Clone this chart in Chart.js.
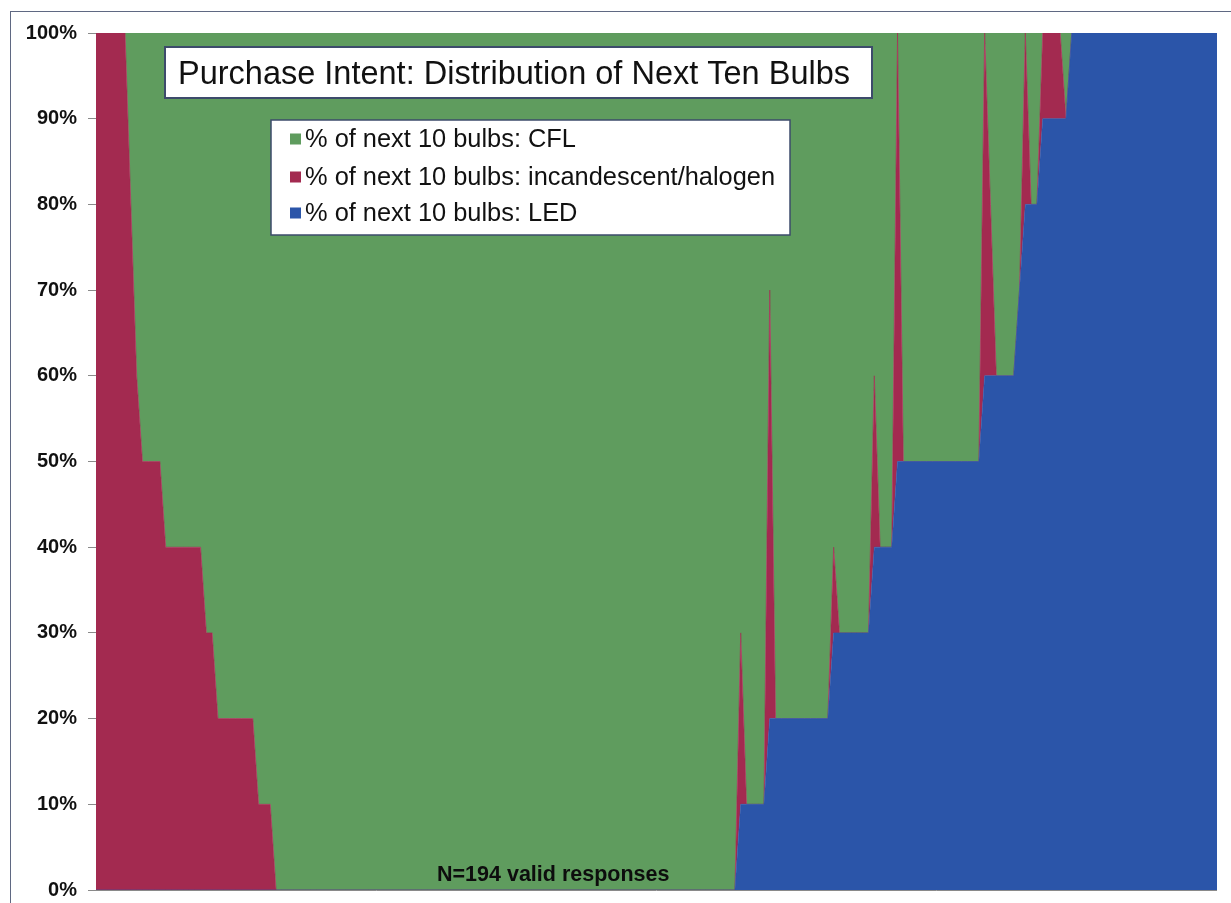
<!DOCTYPE html>
<html>
<head>
<meta charset="utf-8">
<script src="https://cdn.jsdelivr.net/npm/chart.js@4/dist/chart.umd.min.js"></script>
<style>
  html, body { margin: 0; padding: 0; background: #ffffff; }
  #wrap { width: 1231px; height: 903px; position: relative; }
</style>
</head>
<body>
<div id="wrap"><canvas id="c" width="1231" height="903"></canvas></div>
<script>
// ---- DATA (one value per respondent, sorted as in the original, N = 194) ----
const titleText = "Purchase Intent: Distribution of Next Ten Bulbs";
const noteText = "N=194 valid responses";
const seriesNames = ["% of next 10 bulbs: LED", "% of next 10 bulbs: incandescent/halogen", "% of next 10 bulbs: CFL"];
const yTickValues = [0, 10, 20, 30, 40, 50, 60, 70, 80, 90, 100];

const ledShare = [
  0,0,0,0,0,0,0,0,0,0,
  0,0,0,0,0,0,0,0,0,0,
  0,0,0,0,0,0,0,0,0,0,
  0,0,0,0,0,0,0,0,0,0,
  0,0,0,0,0,0,0,0,0,0,
  0,0,0,0,0,0,0,0,0,0,
  0,0,0,0,0,0,0,0,0,0,
  0,0,0,0,0,0,0,0,0,0,
  0,0,0,0,0,0,0,0,0,0,
  0,0,0,0,0,0,0,0,0,0,
  0,0,0,0,0,0,0,0,0,0,
  0,10,10,10,10,10,20,20,20,20,
  20,20,20,20,20,20,20,30,30,30,
  30,30,30,30,40,40,40,40,50,50,
  50,50,50,50,50,50,50,50,50,50,
  50,50,50,60,60,60,60,60,60,70,
  80,80,80,90,90,90,90,90,100,100,
  100,100,100,100,100,100,100,100,100,100,
  100,100,100,100,100,100,100,100,100,100,
  100,100,100,100
];

const incandescentShare = [
  100,100,100,100,100,100,80,60,50,50,
  50,50,40,40,40,40,40,40,40,30,
  30,20,20,20,20,20,20,20,10,10,
  10,0,0,0,0,0,0,0,0,0,
  0,0,0,0,0,0,0,0,0,0,
  0,0,0,0,0,0,0,0,0,0,
  0,0,0,0,0,0,0,0,0,0,
  0,0,0,0,0,0,0,0,0,0,
  0,0,0,0,0,0,0,0,0,0,
  0,0,0,0,0,0,0,0,0,0,
  0,0,0,0,0,0,0,0,0,0,
  0,20,0,0,0,0,50,0,0,0,
  0,0,0,0,0,0,0,10,0,0,
  0,0,0,0,20,0,0,0,50,0,
  0,0,0,0,0,0,0,0,0,0,
  0,0,0,40,20,0,0,0,0,0,
  20,0,0,10,10,10,10,0,0,0,
  0,0,0,0,0,0,0,0,0,0,
  0,0,0,0,0,0,0,0,0,0,
  0,0,0,0
];

const cflShare = [
  0,0,0,0,0,0,20,40,50,50,
  50,50,60,60,60,60,60,60,60,70,
  70,80,80,80,80,80,80,80,90,90,
  90,100,100,100,100,100,100,100,100,100,
  100,100,100,100,100,100,100,100,100,100,
  100,100,100,100,100,100,100,100,100,100,
  100,100,100,100,100,100,100,100,100,100,
  100,100,100,100,100,100,100,100,100,100,
  100,100,100,100,100,100,100,100,100,100,
  100,100,100,100,100,100,100,100,100,100,
  100,100,100,100,100,100,100,100,100,100,
  100,70,90,90,90,90,30,80,80,80,
  80,80,80,80,80,80,80,60,70,70,
  70,70,70,70,40,60,60,60,0,50,
  50,50,50,50,50,50,50,50,50,50,
  50,50,50,0,20,40,40,40,40,30,
  0,20,20,0,0,0,0,10,0,0,
  0,0,0,0,0,0,0,0,0,0,
  0,0,0,0,0,0,0,0,0,0,
  0,0,0,0
];

const respondents = ledShare.map((_, i) => String(i + 1));

// ---- STYLE ----
const colLED = '#2b55a9';
const colINC = '#a32a50';
const colCFL = '#5f9c5e';

const decorPlugin = {
  id: 'decor',
  beforeDraw(chart) {
    const ctx = chart.ctx;
    ctx.save();
    ctx.fillStyle = '#ffffff';
    ctx.fillRect(0, 0, chart.width, chart.height);
    ctx.strokeStyle = '#5f6882';
    ctx.lineWidth = 1;
    ctx.strokeRect(10.5, 11.5, 1240, 920);
    ctx.restore();
  },
  afterDraw(chart) {
    const ctx = chart.ctx;
    const a = chart.chartArea;
    ctx.save();
    // bottom axis line
    ctx.strokeStyle = '#8a8a8a';
    ctx.lineWidth = 1;
    ctx.beginPath();
    ctx.moveTo(a.left, Math.round(a.bottom) + 0.5);
    ctx.lineTo(a.right, Math.round(a.bottom) + 0.5);
    ctx.stroke();

    // title box
    ctx.fillStyle = '#ffffff';
    ctx.fillRect(165, 47, 707, 51);
    ctx.strokeStyle = '#3d4b6b';
    ctx.lineWidth = 2;
    ctx.strokeRect(165, 47, 707, 51);
    ctx.fillStyle = '#111111';
    ctx.font = '32.5px "Liberation Sans", Arial, sans-serif';
    ctx.textAlign = 'left';
    ctx.textBaseline = 'alphabetic';
    ctx.fillText(titleText, 178, 84);

    // legend box
    ctx.fillStyle = '#ffffff';
    ctx.fillRect(271, 120, 519, 115);
    ctx.strokeStyle = '#3d4b6b';
    ctx.lineWidth = 1.5;
    ctx.strokeRect(271, 120, 519, 115);
    const ds = chart.data.datasets.slice().reverse();
    const rows = [139, 177, 213];
    ctx.font = '25.4px "Liberation Sans", Arial, sans-serif';
    ctx.textBaseline = 'middle';
    ds.forEach((d, k) => {
      ctx.fillStyle = d.backgroundColor;
      ctx.fillRect(290, rows[k] - 5.5, 11, 11);
      ctx.fillStyle = '#111111';
      ctx.fillText(d.label, 305, rows[k] + 1);
    });

    // note
    ctx.font = 'bold 21.5px "Liberation Sans", Arial, sans-serif';
    ctx.textBaseline = 'alphabetic';
    ctx.textAlign = 'left';
    ctx.fillStyle = '#0d0d0d';
    ctx.fillText(noteText, 437, 881);
    ctx.restore();
  }
};

new Chart(document.getElementById('c'), {
  type: 'line',
  data: {
    labels: respondents,
    datasets: [
      { label: seriesNames[0], data: ledShare, backgroundColor: colLED, borderColor: colLED, fill: 'origin' },
      { label: seriesNames[1], data: incandescentShare, backgroundColor: colINC, borderColor: colINC, fill: '-1' },
      { label: seriesNames[2], data: cflShare, backgroundColor: colCFL, borderColor: colCFL, fill: '-1' }
    ]
  },
  options: {
    responsive: false,
    animation: false,
    devicePixelRatio: 1,
    elements: {
      line: { borderWidth: 0.6, tension: 0 },
      point: { radius: 0, hoverRadius: 0 }
    },
    layout: { padding: { left: 0, top: 33, right: 14, bottom: 13 } },
    plugins: {
      legend: { display: false },
      title: { display: false },
      tooltip: { enabled: false }
    },
    scales: {
      x: {
        display: false,
        offset: false
      },
      y: {
        stacked: true,
        min: 0,
        max: 100,
        afterBuildTicks(scale) { scale.ticks = yTickValues.map(v => ({ value: v })); },
        ticks: {
          callback: v => v + '%',
          color: '#111111',
          padding: 11,
          font: { family: '"Liberation Sans", Arial, sans-serif', size: 20, weight: 'bold' }
        },
        grid: { drawOnChartArea: false, drawTicks: true, tickLength: 8, color: '#8a8a8a' },
        border: { display: true, color: '#8a8a8a' },
        afterFit(scale) {
          scale.width = 96;
          scale.paddingTop = 0;
          scale.paddingBottom = 0;
        }
      }
    }
  },
  plugins: [decorPlugin]
});
</script>
</body>
</html>
